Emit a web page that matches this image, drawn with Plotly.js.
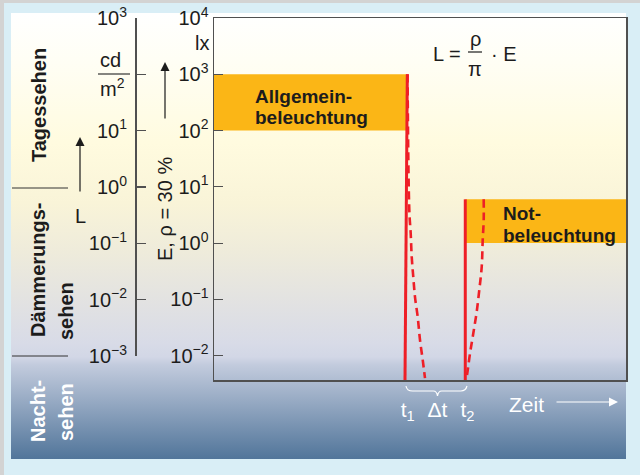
<!DOCTYPE html>
<html>
<head>
<meta charset="utf-8">
<script src="https://cdn.plot.ly/plotly-3.0.1.min.js"></script>
<style>
  html, body { margin:0; padding:0; }
  body { width:640px; height:475px; background:#d9eef6; position:relative; overflow:hidden; }
  #stripTop { position:absolute; left:0; top:0; width:640px; height:3px; background:#d3d3d3; }
  #stripLeft { position:absolute; left:0; top:0; width:4px; height:475px; background:#d3d3d3; }
  #panel { position:absolute; left:11px; top:13px; width:615px; height:446px;
    background: linear-gradient(to bottom,
      #ffffff 0px, #fffef4 50px, #fffbdf 130px, #f9f4d8 190px, #eeebdb 240px,
      #e2e2e2 290px, #d8dbe7 330px, #d2d7e6 344px, #c2cbdd 352px, #51759a 446px); }
  #chart { position:absolute; left:0; top:0; width:640px; height:475px; }
</style>
</head>
<body>
<div id="stripTop"></div>
<div id="stripLeft"></div>
<div id="panel"></div>
<div id="chart"></div>
<script>
// ---------- data ----------
const eTickVals = [1e4, 1e3, 1e2, 1e1, 1, 1e-1, 1e-2];
const eTickText = ['10<sup>4</sup>','10<sup>3</sup>','10<sup>2</sup>','10<sup>1</sup>','10<sup>0</sup>','10<sup>−1</sup>','10<sup>−2</sup>'];
const lTickVals = [1e3, 1e2, 1e1, 1, 1e-1, 1e-2, 1e-3];
const lTickText = ['10<sup>3</sup>','','10<sup>1</sup>','10<sup>0</sup>','10<sup>−1</sup>','10<sup>−2</sup>','10<sup>−3</sup>'];

const T1 = 47, T2 = 61.5;
const timeTickVals = [T1, (T1 + T2) / 2, T2];
const timeTickText = ['t<sub>1</sub>', 'Δt', 't<sub>2</sub>'];

const allgemeinX = [0, 46.9];
const allgemeinE = [100, 1000];
const notX = [61, 100];
const notE = [1, 6];

const abschaltX = [46.92, 46.36];
const abschaltE = [1000, 0.0037];
const einschaltX = [60.99, 60.99];
const einschaltE = [6, 0.0037];

const nachlaufX = [46.97, 47.14, 47.28, 47.45, 47.74, 47.99, 48.37, 48.79, 49.44, 50.0, 50.66, 51.21];
const nachlaufE = [1000, 45, 8.8, 3.16, 1.5, 0.57, 0.25, 0.11, 0.049, 0.019, 0.0084, 0.004];
const anlaufX = [65.46, 65.46, 65.22, 64.98, 64.39, 63.76, 62.94, 62.14, 61.48, 61.17];
const anlaufE = [6, 2.58, 1.13, 0.38, 0.147, 0.060, 0.025, 0.011, 0.0049, 0.0037];

// ---------- helpers ----------
const PW = 626, PT = 18, PH = 362;
const PX = x => x / PW;
const PY = y => 1 - (y - PT) / PH;
const FONT = 'Liberation Sans, Arial, Helvetica, sans-serif';
const INK = '#1c1c1c';
const ORANGE = '#fbb616';
const RED = '#ee1f27';
const AX = '#505050';

function rect(xs, es) {
  return { x: [xs[0], xs[1], xs[1], xs[0], xs[0]], y: [es[0], es[0], es[1], es[1], es[0]] };
}
const r1 = rect(allgemeinX, allgemeinE);
const r2 = rect(notX, notE);

const traces = [
  { x: r1.x, y: r1.y, type: 'scatter', mode: 'lines', fill: 'toself', fillcolor: ORANGE, line: { width: 0, color: ORANGE }, hoverinfo: 'skip' },
  { x: r2.x, y: r2.y, type: 'scatter', mode: 'lines', fill: 'toself', fillcolor: ORANGE, line: { width: 0, color: ORANGE }, hoverinfo: 'skip' },
  { x: nachlaufX, y: nachlaufE, type: 'scatter', mode: 'lines', line: { color: RED, width: 2.6, dash: '8px,5px', shape: 'spline' }, hoverinfo: 'skip' },
  { x: anlaufX, y: anlaufE, type: 'scatter', mode: 'lines', line: { color: RED, width: 2.6, dash: '8px,5px', shape: 'spline' }, hoverinfo: 'skip' },
  { x: abschaltX, y: abschaltE, type: 'scatter', mode: 'lines', line: { color: RED, width: 3 }, hoverinfo: 'skip' },
  { x: einschaltX, y: einschaltE, type: 'scatter', mode: 'lines', line: { color: RED, width: 3 }, hoverinfo: 'skip' },
  { x: [null], y: [null], xaxis: 'x', yaxis: 'y2', type: 'scatter', mode: 'lines', hoverinfo: 'skip' }
];

function ann(text, x, y, o = {}) {
  return Object.assign({
    text: text, x: PX(x), y: PY(y), xref: 'paper', yref: 'paper', showarrow: false,
    xanchor: 'center', yanchor: 'middle',
    font: { family: FONT, size: 20, color: INK }
  }, o);
}
function arrow(x, yTip, x2, yTail, color) {
  return {
    text: '', x: PX(x), y: PY(yTip), ax: PX(x2), ay: PY(yTail), xref: 'paper', yref: 'paper',
    axref: 'paper', ayref: 'paper', showarrow: true, arrowhead: 2, arrowsize: 1.5,
    arrowwidth: 1.2, arrowcolor: color, standoff: 0, startstandoff: 0
  };
}
function line(x0, y0, x1, y1, color, w) {
  return { type: 'line', xref: 'paper', yref: 'paper', x0: PX(x0), y0: PY(y0), x1: PX(x1), y1: PY(y1), line: { color: color, width: w } };
}
const bold = (c, s) => ({ family: FONT, size: s || 19, color: c || INK, weight: 'bold' });
const white = s => ({ family: FONT, size: s || 21, color: '#ffffff' });

const annotations = [
  ann('lx', 202, 43),
  ann('cd', 110, 60),
  ann('m<sup>2</sup>', 112, 87),
  ann('L', 80, 216),
  arrow(80, 137, 80, 193, INK),
  arrow(165, 62, 165, 120, INK),
  ann('E, ρ = 30 %', 165, 209, { textangle: -90 }),
  ann('L =', 431, 54, { xanchor: 'left' }),
  ann('ρ', 475, 39),
  ann('π', 475, 69),
  ann('· E', 489, 54, { xanchor: 'left' }),
  ann('Allgemein-', 253, 96, { xanchor: 'left', font: bold() }),
  ann('beleuchtung', 253, 117, { xanchor: 'left', font: bold() }),
  ann('Not-', 501, 213, { xanchor: 'left', font: bold() }),
  ann('beleuchtung', 501, 235, { xanchor: 'left', font: bold() }),
  ann('Tagessehen', 39, 105, { textangle: -90, font: bold(INK, 20) }),
  ann('Dämmerungs-', 38, 270, { textangle: -90, font: bold(INK, 20) }),
  ann('sehen', 66, 311, { textangle: -90, font: bold(INK, 20) }),
  ann('Nacht-', 38, 411, { textangle: -90, font: bold('#ffffff', 20) }),
  ann('sehen', 66, 412, { textangle: -90, font: bold('#ffffff', 20) }),
  ann('Zeit', 526, 404, { font: white(21) }),
  arrow(618, 402, 555, 402, '#ffffff')
];

// brace under t1..t2 (x in time units, y in paper)
const bm = (T1 + T2) / 2;
const yA = PY(386), yB = PY(391), yC = PY(396);
const bracePath = `M ${T1 - 0.4},${yA} Q ${T1 - 0.2},${yB} ${T1 + 1.2},${yB} L ${bm - 1},${yB} Q ${bm - 0.2},${yB} ${bm},${yC} Q ${bm + 0.2},${yB} ${bm + 1},${yB} L ${T2 - 1.6},${yB} Q ${T2 - 0.4},${yB} ${T2 - 0.1},${yA}`;

const shapes = [
  line(12, 188, 68, 188, '#333333', 1),
  line(12, 356, 68, 356, '#333333', 1),
  line(98, 74, 130, 74, '#333333', 1.2),
  line(468, 52, 482, 52, INK, 1.2),
  { type: 'path', xref: 'x', yref: 'paper', path: bracePath, line: { color: '#ffffff', width: 1.2 } }
];

const layout = {
  width: 640, height: 475,
  margin: { l: 0, r: 14, t: 18, b: 95, pad: 0 },
  paper_bgcolor: 'rgba(0,0,0,0)', plot_bgcolor: 'rgba(0,0,0,0)',
  showlegend: false,
  font: { family: FONT, size: 20, color: INK },
  xaxis: {
    domain: [PX(214), 1], range: [0, 100], showgrid: false, zeroline: false,
    showline: true, mirror: true, linecolor: AX, linewidth: 1.5,
    ticks: '', tickvals: timeTickVals, ticktext: timeTickText,
    tickfont: { family: FONT, size: 21, color: '#ffffff' }, ticklabelstandoff: 10
  },
  yaxis: {
    type: 'log', range: [-2.432, 4], showgrid: false, zeroline: false,
    showline: true, mirror: true, linecolor: AX, linewidth: 1.5,
    ticks: 'inside', ticklen: 9, tickwidth: 1.2, tickcolor: AX,
    tickvals: eTickVals, ticktext: eTickText,
    tickfont: { family: FONT, size: 20, color: INK }, ticklabelstandoff: 0
  },
  yaxis2: {
    type: 'log', range: [-3, 3], domain: [(380 - 356) / 362, 1],
    anchor: 'free', position: PX(135), side: 'left',
    showgrid: false, zeroline: false,
    showline: true, linecolor: AX, linewidth: 1.5,
    ticks: 'inside', ticklen: 9, tickwidth: 1.2, tickcolor: AX,
    tickvals: lTickVals, ticktext: lTickText,
    tickfont: { family: FONT, size: 20, color: INK }, ticklabelstandoff: 4
  },
  annotations: annotations,
  shapes: shapes
};

Plotly.newPlot('chart', traces, layout, { staticPlot: true, displayModeBar: false });
</script>
</body>
</html>
